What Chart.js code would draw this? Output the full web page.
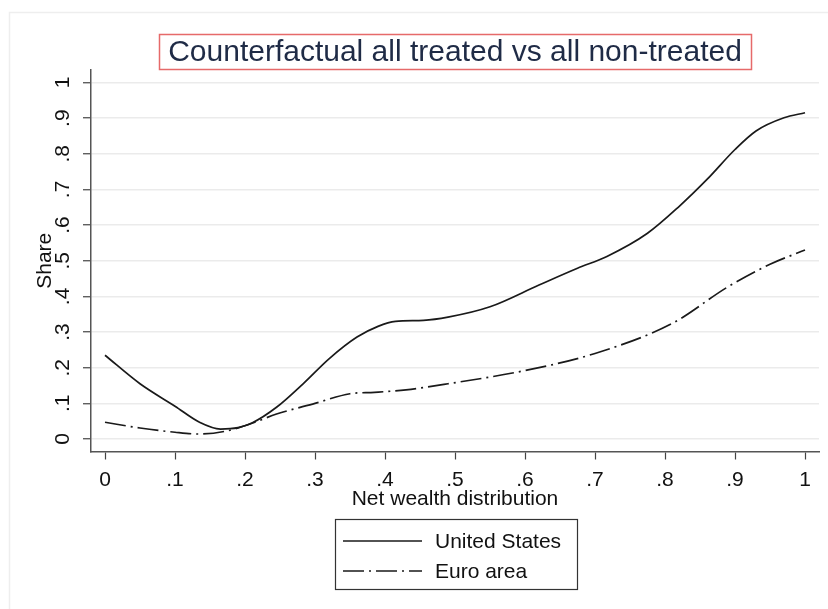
<!DOCTYPE html>
<html>
<head>
<meta charset="utf-8">
<script src="https://cdn.jsdelivr.net/npm/chart.js@4"></script>
<style>
  html, body { margin: 0; padding: 0; background: #fff; }
  canvas { display: block; }
</style>
</head>
<body>
<canvas id="chart" width="828" height="609"></canvas>
<script>
// values
const titleText = "Counterfactual all treated vs all non-treated";
const xTitle = "Net wealth distribution";
const yTitle = "Share";

const tickValues = [0, .1, .2, .3, .4, .5, .6, .7, .8, .9, 1];
const tickLabels = ["0", ".1", ".2", ".3", ".4", ".5", ".6", ".7", ".8", ".9", "1"];

const usX = [0, .05, .1, .135, .165, .19, .21, .245, .283, .32, .36, .39, .415, .455, .49, .55, .62, .675, .717, .775, .82, .86, .9, .93, .97, 1];
const usShare = [.235, .155, .092, .047, .028, .032, .045, .089, .155, .225, .286, .316, .330, .333, .342, .371, .432, .479, .512, .577, .652, .728, .812, .864, .901, .915];

const euX = [0, .05, .1, .135, .17, .207, .245, .3, .35, .385, .43, .49, .6, .7, .81, .89, .95, 1];
const euShare = [.047, .031, .019, .014, .021, .042, .070, .100, .127, .131, .138, .155, .192, .24, .324, .427, .49, .53];

const FONT = "'Liberation Sans', Arial, sans-serif";
const TXT = 21;

function pts(xs, ys) {
  return xs.map((x, i) => ({ x: x, y: ys[i] }));
}
function tickLabel(v) {
  const i = tickValues.findIndex(t => Math.abs(t - v) < 1e-9);
  return i >= 0 ? tickLabels[i] : "";
}

// light outer frame of the graph region
const framePlugin = {
  id: "frame",
  beforeDraw(chart) {
    const ctx = chart.ctx;
    ctx.save();
    ctx.fillStyle = "#fff";
    ctx.fillRect(0, 0, chart.width, chart.height);
    ctx.strokeStyle = "#eeeeee";
    ctx.lineWidth = 1.5;
    ctx.strokeRect(9.5, 12.5, 900, 700);
    ctx.restore();
  }
};

// red box round the title
const titleBoxPlugin = {
  id: "titleBox",
  afterDraw(chart) {
    const ctx = chart.ctx;
    const ca = chart.chartArea;
    ctx.save();
    ctx.font = "30px " + FONT;
    const w = ctx.measureText(titleText).width;
    const cx = (ca.left + ca.right) / 2;
    ctx.strokeStyle = "#e66a6a";
    ctx.lineWidth = 1.5;
    ctx.strokeRect(Math.round(cx - w / 2 - 9) + 0.5, 34.5, Math.round(w + 18), 35);
    ctx.restore();
  }
};

// Stata style legend box under the axis title
const legendPlugin = {
  id: "boxLegend",
  afterDraw(chart) {
    const ctx = chart.ctx;
    const sets = chart.data.datasets;
    ctx.save();
    ctx.strokeStyle = "#333";
    ctx.lineWidth = 1.2;
    ctx.strokeRect(335.5, 519.5, 242, 70);
    sets.forEach((ds, i) => {
      const y = 541 + i * 30;
      ctx.beginPath();
      ctx.setLineDash(ds.borderDash || []);
      ctx.strokeStyle = ds.borderColor;
      ctx.lineWidth = ds.borderWidth;
      ctx.moveTo(343, y);
      ctx.lineTo(422, y);
      ctx.stroke();
      ctx.setLineDash([]);
      ctx.fillStyle = "#111";
      ctx.font = TXT + "px " + FONT;
      ctx.textAlign = "left";
      ctx.textBaseline = "middle";
      ctx.fillText(ds.label, 435, y + 1);
    });
    ctx.restore();
  }
};

new Chart(document.getElementById("chart").getContext("2d"), {
  type: "line",
  data: {
    datasets: [
      {
        label: "United States",
        data: pts(usX, usShare),
        borderColor: "#1a1a1a",
        borderWidth: 1.7,
        pointRadius: 0,
        cubicInterpolationMode: "monotone",
        fill: false
      },
      {
        label: "Euro area",
        data: pts(euX, euShare),
        borderColor: "#1a1a1a",
        borderWidth: 1.7,
        borderDash: [21, 5, 2, 5],
        pointRadius: 0,
        cubicInterpolationMode: "monotone",
        fill: false
      }
    ]
  },
  options: {
    responsive: false,
    animation: false,
    layout: { padding: { left: 0, right: 9, top: 0, bottom: 97.5 } },
    plugins: {
      legend: { display: false },
      tooltip: { enabled: false },
      title: {
        display: true,
        text: titleText,
        fullSize: false,
        color: "#1f2b46",
        font: { family: FONT, size: 30, weight: "normal", lineHeight: 1.1 },
        padding: { top: 36, bottom: 1 }
      }
    },
    scales: {
      x: {
        type: "linear",
        min: -0.02,
        max: 1.02,
        afterBuildTicks: s => { s.ticks = tickValues.map(v => ({ value: v })); },
        afterFit: s => { s.height = 60; },
        grid: { drawOnChartArea: false, drawTicks: true, tickLength: 8, tickColor: "#444", tickWidth: 1.2 },
        border: { display: true, color: "#555", width: 1.5 },
        ticks: {
          color: "#111",
          font: { family: FONT, size: TXT },
          padding: 8,
          maxRotation: 0,
          autoSkip: false,
          callback: v => tickLabel(v)
        },
        title: {
          display: true,
          text: xTitle,
          color: "#111",
          font: { family: FONT, size: TXT },
          padding: { top: 0, bottom: 0 }
        }
      },
      y: {
        type: "linear",
        min: -0.035,
        max: 1.035,
        afterBuildTicks: s => { s.ticks = tickValues.map(v => ({ value: v })); },
        afterFit: s => { s.width = 91; },
        grid: { color: "#ebebeb", lineWidth: 1.5, drawTicks: true, tickLength: 8, tickColor: "#444", tickWidth: 1.2 },
        border: { display: true, color: "#555", width: 1.5 },
        ticks: {
          color: "#111",
          font: { family: FONT, size: TXT },
          padding: 11,
          minRotation: 90,
          maxRotation: 90,
          crossAlign: "center",
          autoSkip: false,
          callback: v => tickLabel(v)
        },
        title: {
          display: true,
          text: yTitle,
          color: "#111",
          font: { family: FONT, size: TXT },
          padding: { top: 33, bottom: 0 }
        }
      }
    }
  },
  plugins: [framePlugin, titleBoxPlugin, legendPlugin]
});
</script>
</body>
</html>
